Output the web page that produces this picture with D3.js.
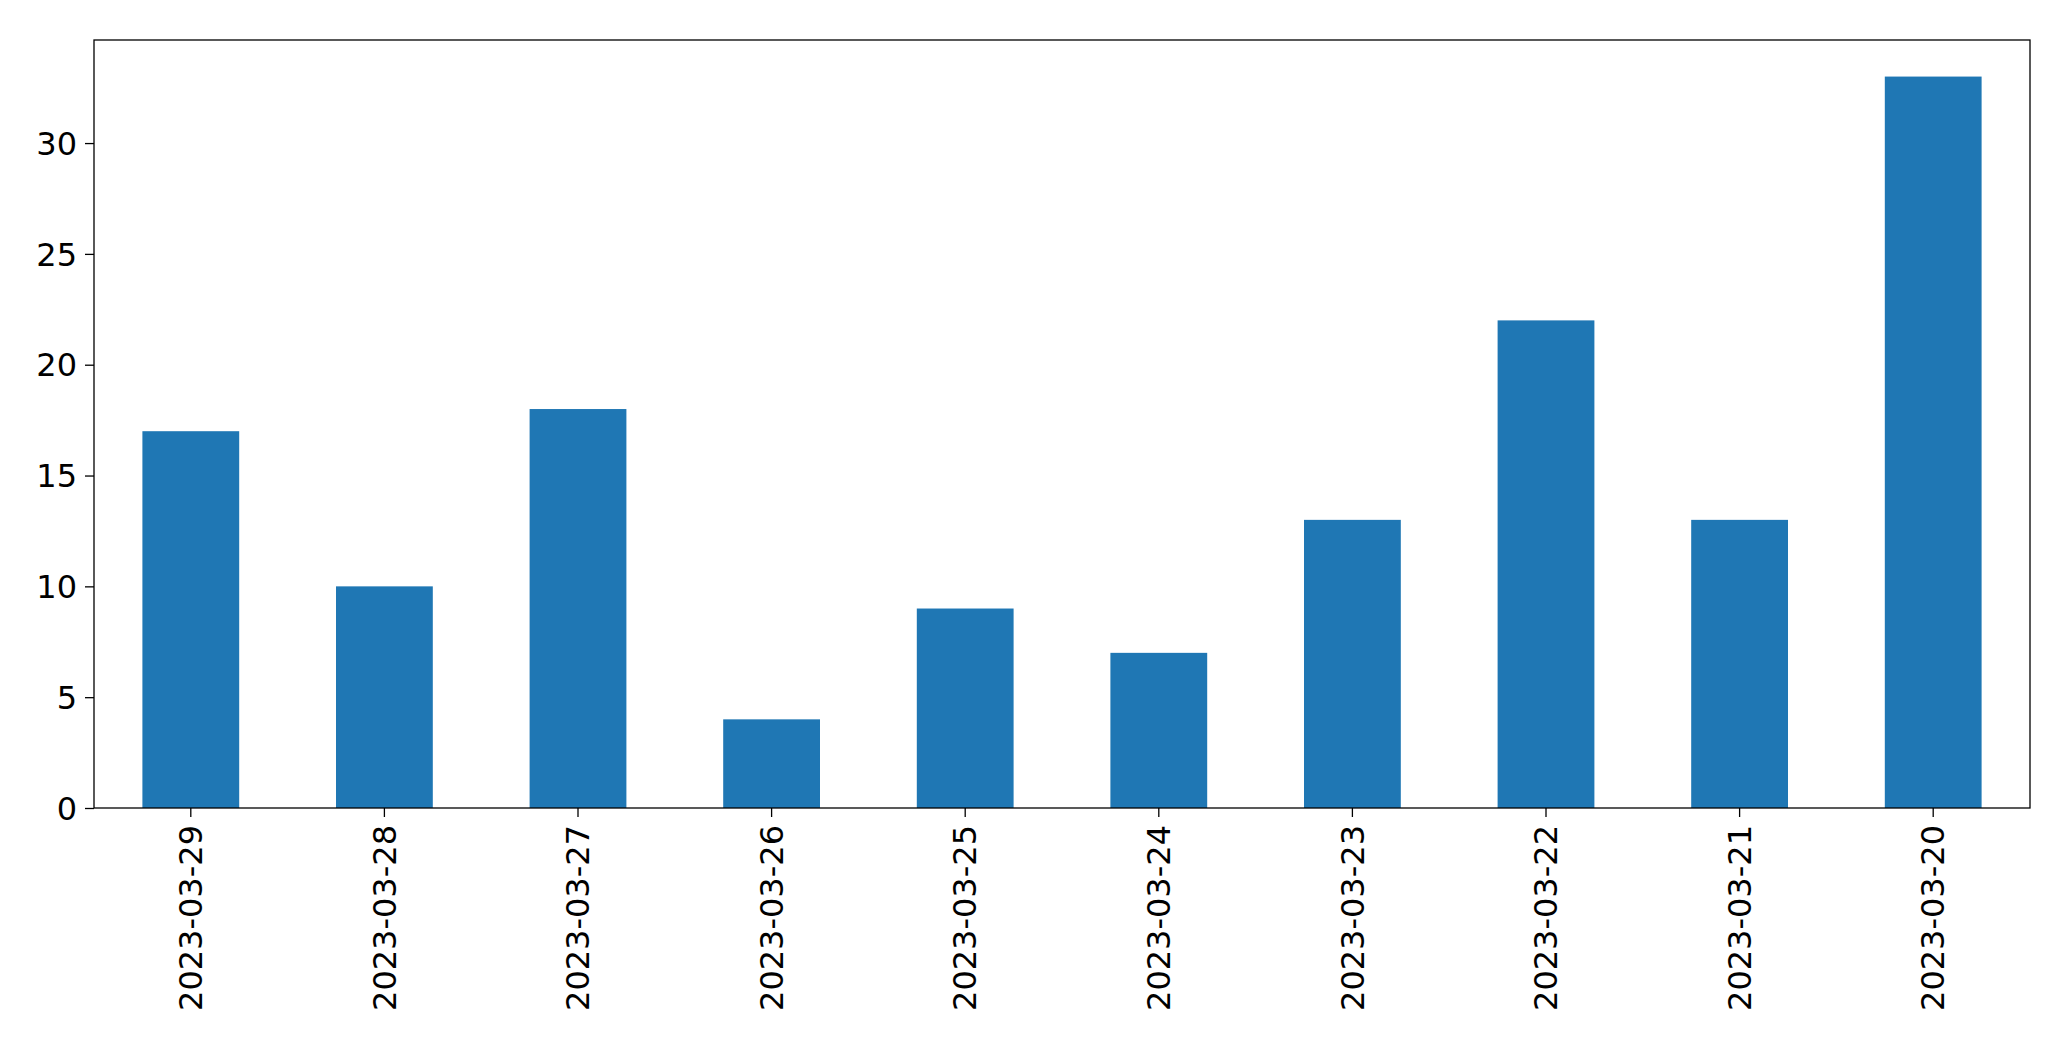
<!DOCTYPE html>
<html>
<head>
<meta charset="utf-8">
<script src="https://cdn.jsdelivr.net/npm/d3@7"></script>
<style>
  body { margin: 0; background: #fff; }
  text { font-family: "DejaVu Sans", sans-serif; }
</style>
</head>
<body>
<script>
// data
const dates = ["2023-03-29", "2023-03-28", "2023-03-27", "2023-03-26", "2023-03-25",
               "2023-03-24", "2023-03-23", "2023-03-22", "2023-03-21", "2023-03-20"];
const counts = [17, 10, 18, 4, 9, 7, 13, 22, 13, 33];
const yTicks = [0, 5, 10, 15, 20, 25, 30];

const W = 2071, H = 1061;
const margin = { left: 94, right: 41, top: 40, bottom: 253 };
const iw = W - margin.left - margin.right;
const ih = H - margin.top - margin.bottom;

const svg = d3.select("body").append("svg").attr("width", W).attr("height", H);
const g = svg.append("g").attr("transform", `translate(${margin.left},${margin.top})`);

const x = d3.scaleBand().domain(dates).range([0, iw]).paddingInner(0.5).paddingOuter(0.25);
const y = d3.scaleLinear().domain([0, d3.max(counts) * 1.05]).range([ih, 0]);

g.selectAll(".bar")
  .data(dates).enter()
  .append("rect")
  .attr("class", "bar")
  .attr("x", (d) => x(d))
  .attr("y", (d, i) => y(counts[i]))
  .attr("width", x.bandwidth())
  .attr("height", (d, i) => ih - y(counts[i]))
  .style("fill", "#1f77b4");

const yAxis = g.append("g").call(d3.axisLeft(y).tickValues(yTicks).tickSize(9).tickPadding(8));
yAxis.select(".domain").remove();
yAxis.selectAll("text").style("font-size", "32px").attr("dy", "0.35em");

const xAxis = g.append("g").attr("transform", `translate(0,${ih})`)
  .call(d3.axisBottom(x).tickSize(9).tickPadding(8));
xAxis.select(".domain").remove();
xAxis.selectAll("text")
  .style("font-size", "32px")
  .attr("transform", "rotate(-90)")
  .attr("text-anchor", "end")
  .attr("x", -17)
  .attr("y", 0)
  .attr("dy", "0.35em");

g.selectAll(".tick line").attr("stroke", "#000").attr("stroke-width", 1.3);

g.append("rect").attr("width", iw).attr("height", ih)
  .attr("fill", "none").attr("stroke", "#000").attr("stroke-width", 1.3);
</script>
</body>
</html>
